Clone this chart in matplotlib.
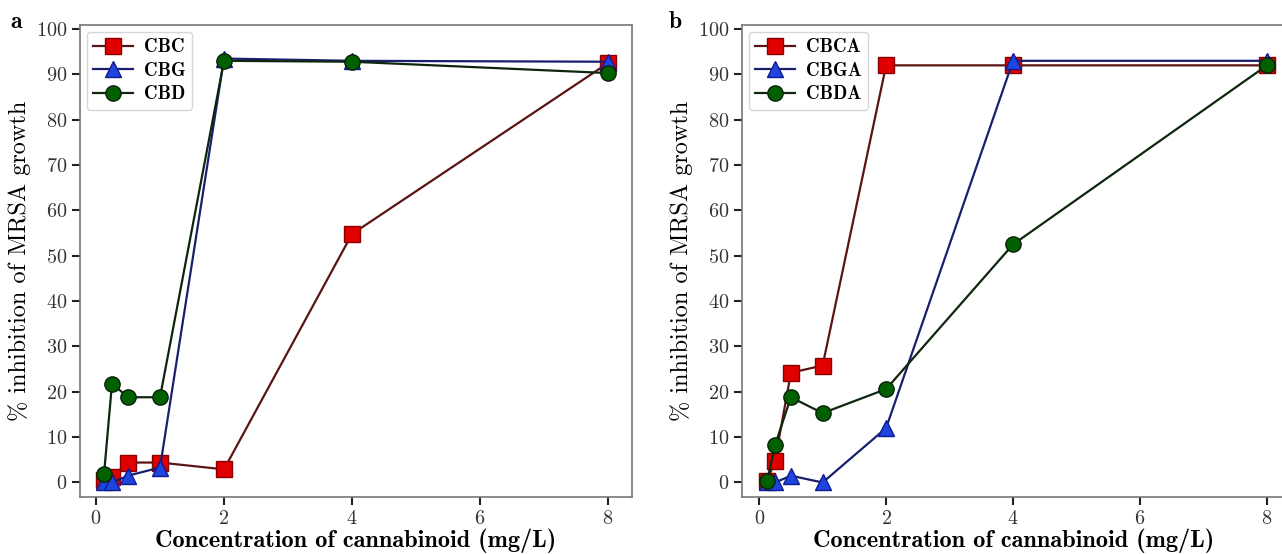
import matplotlib
matplotlib.use("Agg")
import matplotlib.pyplot as plt
from matplotlib.font_manager import FontProperties

plt.rcParams['font.family'] = ['cmr10', 'DejaVu Serif']
plt.rcParams['axes.formatter.use_mathtext'] = True
plt.rcParams['mathtext.fontset'] = 'cm'

conc = [0.125, 0.25, 0.5, 1, 2, 4, 8]
xticks = [0, 2, 4, 6, 8]
yticks = [0, 10, 20, 30, 40, 50, 60, 70, 80, 90, 100]

# Panel a
cbc = [0.5, 1.3, 4.4, 4.4, 2.9, 54.8, 92.5]
cbg = [0.0, 0.0, 1.5, 3.3, 93.5, 93.0, 92.8]
cbd = [1.8, 21.8, 18.8, 18.8, 93.0, 92.8, 90.3]
# Panel b
cbca = [0.3, 4.8, 24.2, 25.8, 92.0, 92.0, 92.0]
cbga = [0.0, 0.0, 1.5, 0.0, 12.0, 93.0, 93.0]
cbda = [0.3, 8.2, 18.8, 15.3, 20.6, 52.5, 92.0]

styles = [
    dict(marker='s', color='#5a1414', mfc='#e00000', mec='#8a0000', ms=11),
    dict(marker='^', color='#18206e', mfc='#1f45e0', mec='#101a90', ms=12),
    dict(marker='o', color='#0d260d', mfc='#006000', mec='#0a200a', ms=11),
]

W, H = 1282, 554
fig = plt.figure(figsize=(W / 100, H / 100), dpi=100)
bold = FontProperties(family='cmb10', size=17.5)
legbold = FontProperties(family='cmb10', size=13.5)

def make_ax(left_px, right_px, xlim, series, labels, letter, letter_x):
    ax = fig.add_axes([left_px / W, (H - 497) / H, (right_px - left_px) / W, (497 - 25) / H])
    for ys, lab, st in zip(series, labels, styles):
        ax.plot(conc, ys, lw=1.6, mew=1.0, label=lab, **st)
    ax.set_xlim(*xlim)
    ax.set_ylim(-3.2, 100.9)
    ax.set_xticks(xticks)
    ax.set_yticks(yticks)
    ax.tick_params(direction='out', length=6, width=1.5, color='#222222', labelsize=14.5,
                   labelcolor='#333333', pad=3)
    for s in ax.spines.values():
        s.set_color('#777777')
        s.set_linewidth(1.2)
    ax.set_xlabel('Concentration of cannabinoid (mg/L)', fontproperties=bold, labelpad=1)
    ax.set_ylabel('% inhibition of MRSA growth', fontsize=17.5, labelpad=4)
    leg = ax.legend(loc='upper left', prop=legbold, frameon=True, fancybox=True,
                    borderpad=0.35, handlelength=2.1, labelspacing=0.3,
                    borderaxespad=0.35, handletextpad=0.6)
    leg.get_frame().set_edgecolor('#cccccc')
    leg.get_frame().set_linewidth(1.0)
    fig.text(letter_x / W, (H - 22) / H, letter, fontproperties=FontProperties(family='cmb10', size=17),
             va='center', ha='left')
    return ax

make_ax(80, 632, (-0.25, 8.375), [cbc, cbg, cbd], ['CBC', 'CBG', 'CBD'], 'a', 10)
make_ax(742, 1286, (-0.27, 8.3), [cbca, cbga, cbda], ['CBCA', 'CBGA', 'CBDA'], 'b', 669)

fig.savefig('out.png', dpi=100)
